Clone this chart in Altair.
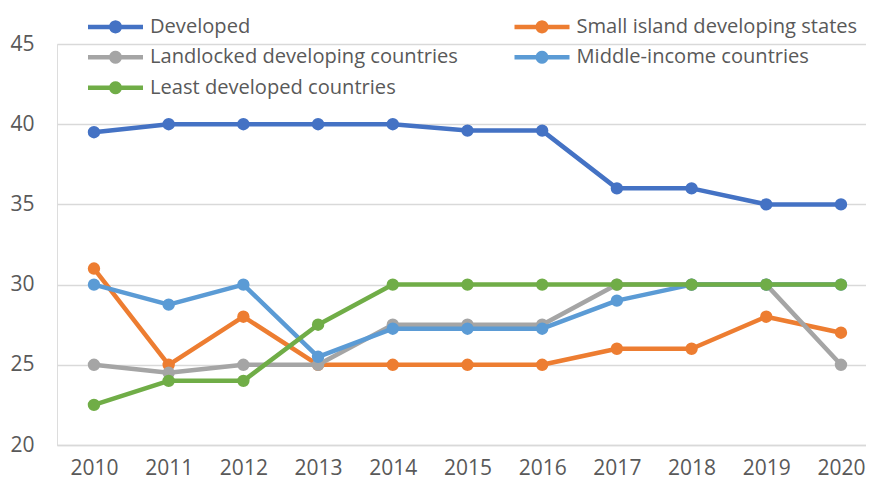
import math
import altair as alt
import pandas as pd

years = [2010, 2011, 2012, 2013, 2014, 2015, 2016, 2017, 2018, 2019, 2020]
series_names = [
    "Developed",
    "Small island developing states",
    "Landlocked developing countries",
    "Middle-income countries",
    "Least developed countries",
]
developed = [39.5, 40, 40, 40, 40, 39.6, 39.6, 36, 36, 35, 35]
sids = [31, 25, 28, 25, 25, 25, 25, 26, 26, 28, 27]
lldc = [25, 24.5, 25, 25, 27.5, 27.5, 27.5, 30, 30, 30, 25]
mic = [30, 28.75, 30, 25.5, 27.25, 27.25, 27.25, 29, 30, 30, 30]
ldc = [22.5, 24, 24, 27.5, 30, 30, 30, 30, 30, 30, 30]
colors = ["#4472C4", "#ED7D31", "#A5A5A5", "#5B9BD5", "#70AD47"]

values = [developed, sids, lldc, mic, ldc]
rows = []
for name, vals in zip(series_names, values):
    for y, v in zip(years, vals):
        rows.append({"year": y, "value": v, "series": name})
df = pd.DataFrame(rows)

FONT = "Open Sans"
TXT = "#595959"
LFS = 20.1

# legend symbol: a line with a dot (dot drawn as a stroked 20-gon); unit = 10 px
r = 0.425
poly = " ".join(
    ("M" if i == 0 else "L") + f"{r*math.cos(2*math.pi*i/20):.4f},{r*math.sin(2*math.pi*i/20):.4f}"
    for i in range(20)
)
SYMBOL = "M-2.75,0L2.75,0" + poly + "Z"

color_scale = alt.Scale(domain=series_names, range=colors)


def make_legend():
    return alt.Legend(
        title=None,
        orient="none",
        direction="horizontal",
        legendX=46,
        legendY=-29.75,
        columns=2,
        columnPadding=47.5,
        rowPadding=3.5,
        symbolType=SYMBOL,
        symbolSize=400,
        symbolStrokeWidth=4.5,
        symbolOpacity=1,
        symbolFillColor="transparent",
        labelFont=FONT,
        labelFontSize=LFS,
        labelColor=TXT,
        labelOffset=22,
        labelLimit=600,
    )


x_enc = alt.X("year:Q", scale=alt.Scale(domain=[2009.505, 2020.335], nice=False, zero=False),
              axis=alt.Axis(values=years, format="d", title=None, grid=False, ticks=False,
                            domain=True, domainColor="#D9D9D9", domainWidth=1.5,
                            labelFont=FONT, labelFontSize=21, labelColor=TXT, labelPadding=12))
y_enc = alt.Y("value:Q", scale=alt.Scale(domain=[20, 45], nice=False, zero=False),
              axis=alt.Axis(values=[20, 25, 30, 35, 40, 45], title=None, grid=True,
                            gridColor="#D9D9D9", gridWidth=1.5, ticks=False, domain=False,
                            labelFont=FONT, labelFontSize=21, labelColor=TXT, labelPadding=23))

layers = []
for name in series_names:
    base = alt.Chart(df).transform_filter(alt.datum.series == name)
    line = base.mark_line(strokeWidth=4.5, strokeCap="round", strokeJoin="round").encode(
        x=x_enc, y=y_enc,
        color=alt.Color("series:N", scale=color_scale, legend=make_legend()),
    )
    pts = base.mark_circle(size=154, opacity=1).encode(
        x=x_enc, y=y_enc,
        fill=alt.Fill("series:N", scale=color_scale, legend=None),
    )
    layers += [line, pts]

chart = alt.layer(*layers).properties(
    width=809, height=401,
    padding={"left": 49, "top": 36, "right": 0, "bottom": 32},
    autosize=alt.AutoSizeParams(type="none"),
).configure_view(strokeWidth=0, stroke="transparent").configure(background="white")

chart.save("out.html", embed_options={"renderer": "svg", "actions": False})
